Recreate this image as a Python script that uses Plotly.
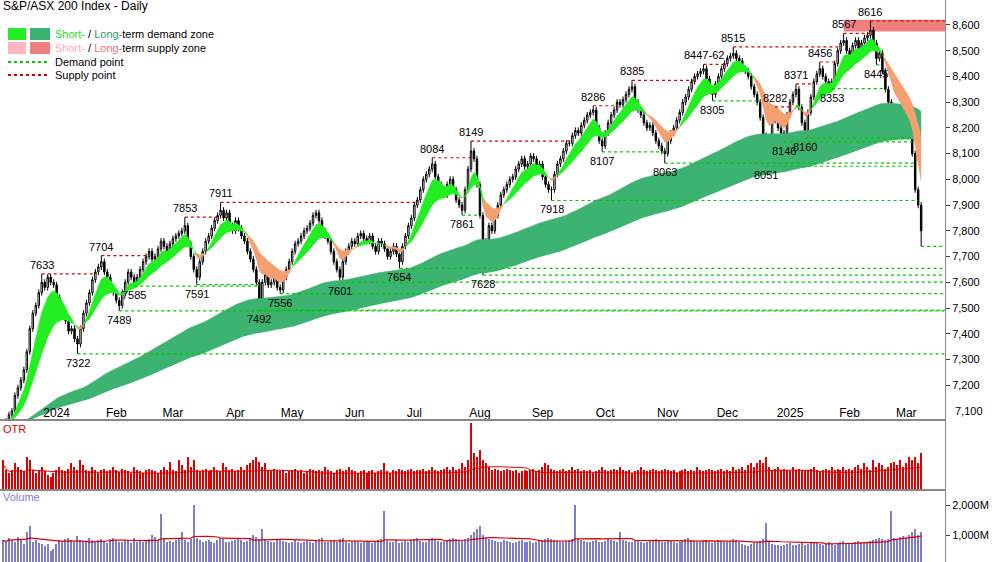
import numpy as np, pandas as pd
import plotly.graph_objects as go
from plotly.subplots import make_subplots

closes = [7050,7060,7085,7100,7160,7190,7220,7260,7330,7420,7480,7510,7560,7600,
 7580,7620,7600,7590,7540, 7500,7480,7450,7410,7420,7380,7360,
 7420,7480,7520,7560,7610,7640,7660,7680, 7640,7620,7580,7560,7530,7510,
 7560,7600,7640,7620,7600,
 7620,7650,7680,7700,7720,7690,7700,7730,7760,7740,7720,7750,7770,7780,7790,7800,7820,
 7750,7700,7650,7620, 7680,7720,7760,7780,7810,7840,7860,7880,
 7850,7870,7820,7800,7840,7810,7780,7760,7720,7690,7650,7600,7530,
 7600,7630,7590,7600,7620,7580,7570,
 7620,7650,7680,7720,7750,7760,7780,7800,7810,7830,7860,7870,
 7840,7800,7780,7760,7720,7680,7650,7620,
 7680,7720,7740,7760,7750,7780,7790,7770,7760,7780,
 7740,7720,7760,7750,7730,7700,7720,7740,7710,7680,
 7740,7780,7820,7850,7900,7920,7960,8000,8020,8040,8060,
 8010,7980,7960,7940,7980,8000,7960,7920,7900,7880,
 7960,8040,8110, 8080,7980,7860,7700,
 7760,7820,7800,7860,7900,7940,7960,7980,8000,8010,
 8040,8060,8080,8050,8060,8090,8080,8040,8060,8010,7980,7960,7960,
 8020,8060,8080,8110,8140,8140,8170,8190,8180,8210,8230,8250,8260,8270,
 8200,8150,8130, 8180,8220,8250,8270,8300,8290,8310,8330,8350,8360,
 8300,8270,8250,8220,8200,8210,8180,8150,8130,8110,8100,
 8150,8180,8200,8230,8260,8300,8320,8350,8380,8400,8410,8420,8430,
 8390,8350,8330, 8370,8400,8430,8450,8470,8480,8490,
 8470,8460,8430,8420,8400,8360,8330,8300,8240,8170,8090,
 8160,8230,8260, 8200,8180,8170, 8250,8300,8330,8350, 8280,8220,8190,
 8260,8320,8380,8410,8430, 8400,8380,8370,8380, 8450,8500,8530,8540,
 8500,8480,8520,8540,8510,8530,8550,8560,8580, 8530,8470,
 8490,8420,8350,8300,8280,8250,8270,8240, 8220,8200,8180,8100,7960,7900,7800]

swing_idx = [13,25,33,39,44,61,65,73,86,93,113,133,144,154,157,161,184,198,201,211,222,235,238,245,256,259,262,266,269,274,278,282,291,293,308]
swing_val = [7633,7322,7704,7489,7585,7853,7591,7911,7492,7556,7601,7654,8084,7861,8149,7628,7918,8286,8107,8385,8063,8447,8305,8515,8051,8282,8146,8371,8160,8456,8353,8567,8616,8445,7740]
swing_typ = ['H','L','H','L','L','H','L','H','L','L','L','L','H','L','H','L','L','H','L','H','L','H','L','H','L','H','L','H','L','H','L','H','H','L','L']
swing_txt = ['7633','7322','7704','7489','7585','7853','7591','7911','7492','7556','7601','7654','8084','7861','8149','7628','7918','8286','8107','8385','8063','8447-62','8305','8515','8051','8282','8146','8371','8160','8456','8353','8567','8616','8445','']

volume = [820,760,900,850,780,950,880,700,1100,1300,760,820,740,690,650,700,480,520,700,820,
780,860,900,820,760,980,850,800,770,900,840,760,820,880,790,750,860,900,820,780,
760,800,850,720,900,780,820,760,800,880,1000,950,820,1700,860,780,800,760,840,900,
1100,820,780,860,2000,900,820,760,800,850,780,740,820,900,860,780,760,800,840,880,
820,760,800,900,1000,950,880,1200,860,800,780,760,820,860,800,760,740,780,820,760,
720,780,800,760,740,820,860,900,780,760,800,820,780,860,900,760,740,780,800,760,
720,760,800,780,740,760,820,860,1800,800,760,780,820,740,760,800,780,820,860,900,
800,760,780,820,900,860,800,780,760,820,880,900,860,820,800,860,900,1000,1100,1200,
1300,1000,900,860,820,800,760,780,820,800,760,740,780,800,820,760,780,800,740,760,
800,820,860,900,880,820,800,780,760,800,820,860,2000,880,820,800,780,760,800,820,
780,760,800,860,820,800,780,1100,820,800,760,780,800,820,760,740,780,800,820,860,
800,760,780,820,800,760,740,780,820,860,900,820,800,780,760,800,820,760,740,780,
820,800,760,780,800,860,820,780,700,660,640,700,720,760,800,860,1400,780,700,680,
660,640,680,700,720,680,660,700,720,680,700,720,760,740,700,680,720,760,700,680,
720,760,800,740,700,720,760,800,780,740,760,800,820,860,900,880,820,860,1800,900,
880,920,960,900,1000,1100,1200,1000,1100]

otr = [.45,.3,.25,.3,.4,.35,.3,.28,.5,.45,.3,.25,.3,.35,.28,.22,.2,.25,.3,.35,
.3,.28,.32,.4,.35,.3,.45,.38,.3,.28,.35,.3,.25,.3,.32,.28,.3,.35,.3,.27,
.32,.3,.28,.25,.35,.3,.28,.26,.3,.32,.3,.28,.25,.3,.35,.3,.42,.3,.28,.45,
.38,.3,.5,.35,.45,.3,.28,.3,.32,.28,.3,.35,.3,.28,.4,.35,.3,.32,.28,.3,
.35,.3,.38,.4,.45,.5,.42,.35,.4,.3,.28,.32,.3,.28,.3,.26,.28,.3,.32,.28,
.3,.26,.28,.32,.3,.28,.3,.28,.35,.3,.28,.26,.3,.32,.28,.3,.35,.3,.28,.26,
.28,.3,.25,.28,.3,.26,.28,.3,.4,.28,.26,.3,.28,.32,.3,.28,.3,.32,.28,.3,
.3,.32,.28,.3,.35,.3,.28,.3,.32,.35,.3,.35,.3,.32,.4,.35,.45,1.0,.55,.5,
.6,.45,.4,.35,.3,.32,.3,.28,.3,.32,.3,.28,.3,.26,.28,.3,.28,.3,.32,.28,
.3,.35,.4,.38,.32,.3,.28,.3,.32,.28,.3,.35,.3,.32,.28,.3,.28,.3,.26,.28,
.3,.35,.3,.28,.3,.32,.3,.35,.3,.28,.3,.26,.28,.3,.35,.3,.28,.3,.32,.3,
.28,.3,.32,.3,.28,.3,.26,.28,.3,.32,.28,.3,.28,.35,.3,.28,.3,.32,.3,.28,
.3,.32,.28,.3,.28,.35,.3,.32,.35,.3,.38,.4,.35,.4,.45,.4,.5,.35,.3,.32,
.35,.3,.32,.3,.28,.35,.3,.32,.3,.28,.3,.32,.35,.3,.28,.3,.32,.3,.35,.3,
.32,.3,.35,.3,.32,.3,.35,.38,.32,.4,.35,.3,.45,.35,.4,.38,.32,.35,.4,.42,
.38,.45,.35,.4,.5,.45,.5,.4,.55]

month_idx = [18,38,57,78,97,118,138,160,181,202,223,243,264,284,303]
month_lbl = ['2024','Feb','Mar','Apr','May','Jun','Jul','Aug','Sep','Oct','Nov','Dec','2025','Feb','Mar']

n = len(closes)
x = np.arange(n)
c = np.array(closes, float)
o = np.concatenate([[c[0]-10], c[:-1]])
h = np.maximum(o, c) + 12
l = np.minimum(o, c) - 12
for i, v, t in zip(swing_idx, swing_val, swing_typ):
    if t == 'H': h[i] = max(v, max(o[i], c[i]))
    else: l[i] = min(v, min(o[i], c[i]))

s = pd.Series(c)
sf, ss = s.ewm(span=6, adjust=False).mean().values, s.ewm(span=16, adjust=False).mean().values
lf, ls = s.ewm(span=110, adjust=False).mean().values, s.ewm(span=190, adjust=False).mean().values

fig = make_subplots(rows=3, cols=1, shared_xaxes=True, vertical_spacing=0, row_heights=[420, 70, 72])
XEND = 316

def band(a, b, up_col, dn_col):
    cond = a >= b
    start = 0
    for i in range(1, n + 1):
        if i == n or cond[i] != cond[start]:
            seg = slice(start, min(i + 1, n))
            col = up_col if cond[start] else dn_col
            lo = np.minimum(a[seg], b[seg]); hi = np.maximum(a[seg], b[seg])
            fig.add_trace(go.Scatter(x=x[seg], y=lo, mode='lines', line=dict(width=0, color=col), hoverinfo='skip', showlegend=False), 1, 1)
            fig.add_trace(go.Scatter(x=x[seg], y=hi, mode='lines', line=dict(width=0.5, color=col), fill='tonexty', fillcolor=col, hoverinfo='skip', showlegend=False), 1, 1)
            start = i

band(lf, ls, '#3cb371', '#f7743a')
band(sf, ss, '#22ee22', '#f4a070')

hi_i = swing_idx[swing_val.index(8567)]
fig.add_shape(type='rect', x0=hi_i, x1=XEND, y0=8575, y1=8620, fillcolor='#f08080', line_width=0, layer='below', row=1, col=1)

for i, v, t in zip(swing_idx, swing_val, swing_typ):
    end = XEND
    for j in range(i + 1, n):
        if (t == 'H' and c[j] > v) or (t == 'L' and c[j] < v):
            end = j; break
    fig.add_trace(go.Scatter(x=[i, end], y=[v, v], mode='lines', line=dict(color='#dd0000' if t == 'H' else '#00c800', width=1.2, dash='dot'), hoverinfo='skip', showlegend=False), 1, 1)

fig.add_trace(go.Candlestick(x=x, open=o, high=h, low=l, close=c,
    increasing=dict(line=dict(color='black', width=1), fillcolor='white'),
    decreasing=dict(line=dict(color='black', width=1), fillcolor='black'),
    whiskerwidth=0, showlegend=False), 1, 1)

for i, v, t, txt_ in zip(swing_idx, swing_val, swing_typ, swing_txt):
    if txt_:
        fig.add_annotation(x=i, y=v, text=txt_, showarrow=False, yshift=9 if t == 'H' else -9,
                           font=dict(size=11, color='black'), row=1, col=1)

fig.add_trace(go.Bar(x=x, y=otr, marker_color='#e00000', marker_line_width=0, width=0.45, showlegend=False), 2, 1)
fig.add_trace(go.Scatter(x=x, y=pd.Series(otr).rolling(20, min_periods=1).mean().values*0.85, mode='lines', line=dict(color='#e00000', width=1), showlegend=False), 2, 1)
fig.add_trace(go.Bar(x=x, y=volume, marker_color='#7f7fc8', marker_line_width=0, width=0.45, showlegend=False), 3, 1)
fig.add_trace(go.Scatter(x=x, y=pd.Series(volume).rolling(20, min_periods=1).mean().values, mode='lines', line=dict(color='#e00000', width=1.2), showlegend=False), 3, 1)

ax = dict(showgrid=False, zeroline=False, showline=True, linecolor='#888', mirror=True, range=[-1, XEND])
fig.update_xaxes(**ax)
fig.update_xaxes(tickvals=month_idx, ticktext=month_lbl, ticks='', ticklabelposition='inside', tickfont=dict(size=12, color='black'), rangeslider_visible=False, showticklabels=True, row=1, col=1)
fig.update_xaxes(showticklabels=False, row=2, col=1)
fig.update_xaxes(showticklabels=False, row=3, col=1)
fig.update_yaxes(side='right', range=[7065, 8697], dtick=100, tickformat=',', showgrid=False, zeroline=False, showline=True, linecolor='#888', mirror=True, ticks='outside', ticklen=4, tickfont=dict(size=11, color='black'), row=1, col=1)
fig.update_yaxes(side='right', range=[0, 1.05], showticklabels=False, showgrid=False, zeroline=False, showline=True, linecolor='#888', mirror=True, row=2, col=1)
fig.update_yaxes(side='right', range=[100, 2500], tickvals=[1000, 2000], ticktext=['1,000M', '2,000M'], ticks='outside', ticklen=4, showgrid=False, zeroline=False, showline=True, linecolor='#888', mirror=True, tickfont=dict(size=11, color='black'), row=3, col=1)

W = 945.0
def px(xp, yp): return xp / W, 1 - yp / 562.0
def txt(xp, yp, t, col='black', size=11):
    a, b = px(xp, yp)
    fig.add_annotation(x=a, y=b, xref='paper', yref='paper', text=t, showarrow=False, xanchor='left', yanchor='middle', font=dict(size=size, color=col))
def rect(x0, y0, x1, y1, col):
    a0, b0 = px(x0, y0); a1, b1 = px(x1, y1)
    fig.add_shape(type='rect', xref='paper', yref='paper', x0=a0, y0=b0, x1=a1, y1=b1, fillcolor=col, line_width=0)
def dline(x0, x1, yp, col):
    a0, b = px(x0, yp); a1, _ = px(x1, yp)
    fig.add_shape(type='line', xref='paper', yref='paper', x0=a0, y0=b, x1=a1, y1=b, line=dict(color=col, width=2, dash='dot'))

txt(1, 6, 'S&P/ASX 200 Index - Daily', size=12)
rect(8, 28, 26, 40, '#22ee22'); rect(30, 28, 50, 40, '#3cb371')
txt(53, 34, '<span style="color:#22dd22">Short-</span> / <span style="color:#2e9e5e">Long-</span>term demand zone')
rect(8, 42, 26, 54, '#ffb6c1'); rect(30, 42, 50, 54, '#f08080')
txt(53, 48, '<span style="color:#ffaab8">Short-</span> / <span style="color:#f07070">Long-</span>term supply zone')
dline(8, 50, 62, '#00c800'); txt(53, 62, 'Demand point')
dline(8, 50, 75, '#dd0000'); txt(53, 75, 'Supply point')
txt(1, 429, 'OTR', col='#e00000')
txt(1, 497, 'Volume', col='#7f7fc8')
txt(953, 411, '7,100')

fig.update_layout(width=1000, height=562, margin=dict(l=0, r=55, t=0, b=0), plot_bgcolor='white', paper_bgcolor='white',
                  font=dict(family='Liberation Sans, Arial', size=11), bargap=0, showlegend=False)
fig.write_html('out.html', config={'displayModeBar': False},
               post_script="document.body.style.margin='0';document.body.style.overflow='hidden';")
